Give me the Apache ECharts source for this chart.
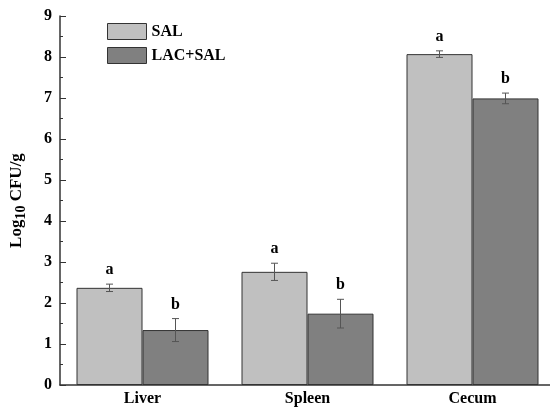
<!DOCTYPE html>
<html>
<head>
<meta charset="utf-8">
<script src="https://cdn.jsdelivr.net/npm/echarts@6/dist/echarts.min.js"></script>
<style>html,body{margin:0;padding:0;background:#fff}#c{width:550px;height:410px}</style>
</head>
<body>
<div id="c"></div>
<script>
var categories = ['Liver', 'Spleen', 'Cecum'];
var seriesNames = ['SAL', 'LAC+SAL'];
var salValues = [2.37, 2.76, 8.07];
var salErrors = [0.09, 0.21, 0.08];
var salLetters = ['a', 'a', 'a'];
var lacValues = [1.34, 1.74, 6.99];
var lacErrors = [0.28, 0.35, 0.13];
var lacLetters = ['b', 'b', 'b'];
var yTicks = [0, 1, 2, 3, 4, 5, 6, 7, 8, 9];

var FONT = '"Liberation Serif", "Times New Roman", serif';

function errData(vals, errs) {
  return vals.map(function (v, i) { return [i, v, errs[i]]; });
}

function makeErr(offsetFrac, letters) {
  return function (params, api) {
    var ci = api.value(0), v = api.value(1), e = api.value(2);
    var band = api.size([1, 0])[0];
    var x = api.coord([ci, v])[0] + offsetFrac * band;
    var yTop = api.coord([ci, v + e])[1];
    var yBot = api.coord([ci, v - e])[1];
    var cap = 3.5;
    var st = { stroke: '#555', lineWidth: 1 };
    return {
      type: 'group',
      children: [
        { type: 'line', shape: { x1: x, y1: yTop, x2: x, y2: yBot }, style: st },
        { type: 'line', shape: { x1: x - cap, y1: yTop, x2: x + cap, y2: yTop }, style: st },
        { type: 'line', shape: { x1: x - cap, y1: yBot, x2: x + cap, y2: yBot }, style: st },
        { type: 'text', x: x, y: yTop - 14,
          style: { text: letters[params.dataIndex], textAlign: 'center', textVerticalAlign: 'middle',
                   font: 'bold 16px ' + FONT, fill: '#000' } }
      ]
    };
  };
}

var chart = echarts.init(document.getElementById('c'));
chart.setOption({
  animation: false,
  backgroundColor: '#fff',
  grid: { left: 60, top: 16, width: 495, bottom: 25, outerBoundsMode: 'none', containLabel: false },
  legend: {
    data: seriesNames,
    orient: 'vertical',
    left: 102, top: 18,
    icon: 'rect',
    itemWidth: 39, itemHeight: 16, itemGap: 7,
    itemStyle: { borderColor: '#333', borderWidth: 1 },
    textStyle: { fontFamily: FONT, fontWeight: 'bold', fontSize: 16, color: '#000' }
  },
  xAxis: {
    type: 'category',
    data: categories,
    axisLine: { lineStyle: { color: '#333', width: 1.5 } },
    axisTick: { show: false },
    axisLabel: { fontFamily: FONT, fontWeight: 'bold', fontSize: 16, color: '#000', margin: 6 }
  },
  yAxis: {
    type: 'value',
    min: yTicks[0], max: yTicks[yTicks.length - 1], interval: 1,
    name: '{b|Log}{s|10}{b| CFU/g}',
    nameLocation: 'middle',
    nameGap: 32,
    nameTextStyle: {
      rich: {
        b: { fontFamily: FONT, fontWeight: 'bold', fontSize: 17, color: '#000' },
        s: { fontFamily: FONT, fontWeight: 'bold', fontSize: 14, color: '#000', verticalAlign: 'bottom', padding: [8, 0, 0, 0] }
      }
    },
    axisLine: { show: true, lineStyle: { color: '#333', width: 1.5 } },
    axisTick: { show: true, inside: true, length: 6, lineStyle: { color: '#333' } },
    minorTick: { show: true, splitNumber: 2, length: 3, lineStyle: { color: '#333' } },
    splitLine: { show: false },
    axisLabel: { fontFamily: FONT, fontWeight: 'bold', fontSize: 16, color: '#000', margin: 8 }
  },
  series: [
    { name: seriesNames[0], type: 'bar', data: salValues, barWidth: '40%', barGap: '0%',
      itemStyle: { color: '#c0c0c0', borderColor: '#333', borderWidth: 1 } },
    { name: seriesNames[1], type: 'bar', data: lacValues, barWidth: '40%', barGap: '0%',
      itemStyle: { color: '#808080', borderColor: '#333', borderWidth: 1 } },
    { name: 'err1', type: 'custom', data: errData(salValues, salErrors), renderItem: makeErr(-0.2, salLetters), z: 5 },
    { name: 'err2', type: 'custom', data: errData(lacValues, lacErrors), renderItem: makeErr(0.2, lacLetters), z: 5 }
  ]
});
</script>
</body>
</html>
